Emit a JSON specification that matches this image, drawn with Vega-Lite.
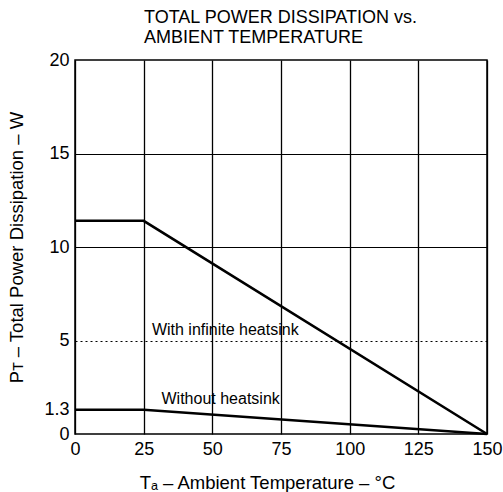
{
  "$schema": "https://vega.github.io/schema/vega-lite/v6.json",
  "width": 412,
  "height": 374,
  "autosize": {"type": "none"},
  "padding": {"left": 75, "top": 60, "right": 16, "bottom": 58},
  "background": "white",
  "config": {
    "font": "Liberation Sans",
    "view": {"stroke": "black", "strokeWidth": 1.5}
  },
  "title": {
    "text": ["TOTAL POWER DISSIPATION vs.", "AMBIENT TEMPERATURE"],
    "anchor": "start",
    "frame": "group",
    "dx": 69,
    "offset": 4,
    "fontSize": 18,
    "lineHeight": 20,
    "fontWeight": "normal",
    "color": "black"
  },
  "datasets": {
    "curves": [
      {"series": "With infinite heatsink", "temp": 0, "power": 11.4},
      {"series": "With infinite heatsink", "temp": 25, "power": 11.4},
      {"series": "With infinite heatsink", "temp": 150, "power": 0},
      {"series": "Without heatsink", "temp": 0, "power": 1.3},
      {"series": "Without heatsink", "temp": 25, "power": 1.3},
      {"series": "Without heatsink", "temp": 150, "power": 0}
    ],
    "labels": [
      {"label": "With infinite heatsink", "temp": 28, "power": 5.55},
      {"label": "Without heatsink", "temp": 31.5, "power": 1.85}
    ]
  },
  "encoding": {
    "x": {
      "field": "temp",
      "type": "quantitative",
      "scale": {"domain": [0, 150], "nice": false},
      "axis": {
        "values": [0, 25, 50, 75, 100, 125, 150],
        "format": "d",
        "title": "Tₐ – Ambient Temperature – °C",
        "titleFontSize": 18.5,
        "titleFontWeight": "normal",
        "titleColor": "black",
        "titleX": 192,
        "titleY": 54,
        "titleBaseline": "alphabetic",
        "labelFontSize": 18,
        "labelColor": "black",
        "labelPadding": 6,
        "labelFlush": false,
        "domain": false,
        "ticks": false,
        "grid": true,
        "gridColor": "black",
        "gridWidth": 1.3,
        "gridOpacity": 1
      }
    },
    "y": {
      "field": "power",
      "type": "quantitative",
      "scale": {"domain": [0, 20], "nice": false},
      "axis": {
        "values": [0, 1.3, 5, 10, 15, 20],
        "format": "~g",
        "title": "Pᴛ – Total Power Dissipation – W",
        "titleFontSize": 18.5,
        "titleFontWeight": "normal",
        "titleColor": "black",
        "titleX": -58.5,
        "titleY": 187,
        "titleBaseline": "middle",
        "labelFontSize": 18,
        "labelColor": "black",
        "labelPadding": 6,
        "labelFlush": false,
        "domain": false,
        "ticks": false,
        "grid": true,
        "gridColor": "black",
        "gridWidth": 1,
        "gridOpacity": {"condition": {"test": "datum.value === 1.3 || datum.value === 0 || datum.value === 20", "value": 0}, "value": 1},
        "gridDash": {"condition": {"test": "datum.value === 5", "value": [2, 3]}, "value": []}
      }
    }
  },
  "layer": [
    {
      "data": {"name": "curves"},
      "mark": {"type": "line", "color": "black", "strokeWidth": 2.6},
      "encoding": {
        "detail": {"field": "series", "type": "nominal"}
      }
    },
    {
      "data": {"name": "labels"},
      "mark": {"type": "text", "align": "left", "baseline": "middle", "fontSize": 16, "color": "black"},
      "encoding": {
        "text": {"field": "label", "type": "nominal"}
      }
    }
  ]
}
